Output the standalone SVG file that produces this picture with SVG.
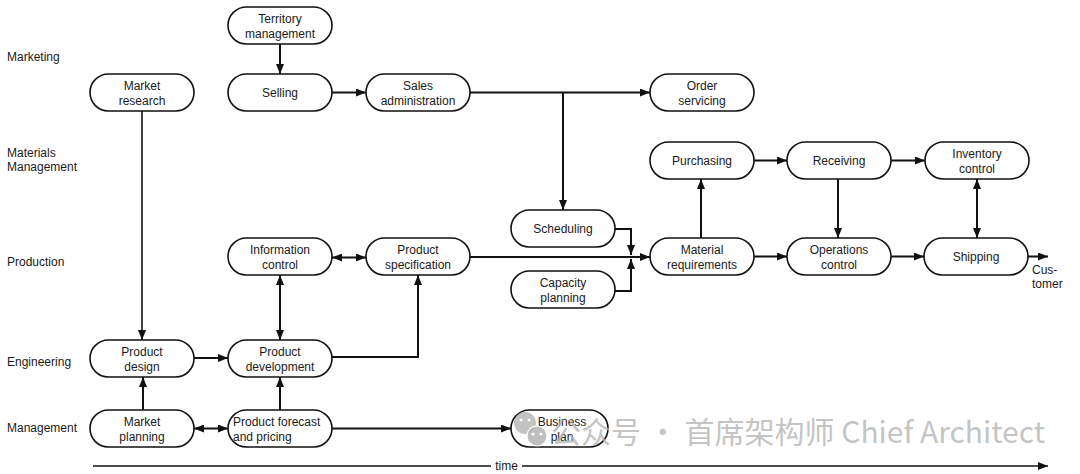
<svg xmlns="http://www.w3.org/2000/svg" width="1080" height="474" viewBox="0 0 1080 474">
<defs>
<style>
.n rect{fill:#fff;stroke:#111;stroke-width:1.6}
.n text,.lab,.t{font-family:"Liberation Sans",Arial,sans-serif;font-size:12px;fill:#1a1a1a}
.n text{text-anchor:middle}
.n text.l{text-anchor:start}
.c path{fill:none;stroke:#111;stroke-width:2}
.c .thin{stroke-width:1.6}
.wm{font-family:"Noto Sans CJK SC","Noto Sans",sans-serif;font-size:30px;fill:#b4b4b4;fill-opacity:0.8}
</style>
<marker id="ah" viewBox="0 0 10 8" refX="10" refY="4" markerWidth="10" markerHeight="8" markerUnits="userSpaceOnUse" orient="auto-start-reverse"><path d="M0,0 L10,4 L0,8 z" fill="#111"/></marker>
</defs>
<rect width="1080" height="474" fill="#fff"/>

<g id="lanes">
<text class="lab" x="7" y="61">Marketing</text>
<text class="lab" x="7" y="157">Materials</text>
<text class="lab" x="7" y="171">Management</text>
<text class="lab" x="7" y="266">Production</text>
<text class="lab" x="7" y="366">Engineering</text>
<text class="lab" x="7" y="432">Management</text>
</g>

<g class="c" id="connectors">
<path d="M280,44 V74" marker-end="url(#ah)"/>
<path d="M332,92.5 H366" marker-end="url(#ah)"/>
<path d="M470,92.5 H650" marker-end="url(#ah)"/>
<path d="M563,92.5 V210" marker-end="url(#ah)"/>
<path class="thin" d="M142,111 V340" marker-end="url(#ah)"/>
<path d="M615,229 H631 V255" marker-end="url(#ah)"/>
<path d="M615,291 H631 V259" marker-end="url(#ah)"/>
<path d="M470,257 H650" marker-end="url(#ah)"/>
<path d="M701,238 V179" marker-end="url(#ah)"/>
<path d="M754,160.5 H787" marker-end="url(#ah)"/>
<path d="M891,160.5 H925" marker-end="url(#ah)"/>
<path d="M838,179 V238" marker-end="url(#ah)"/>
<path d="M977,179 V238" marker-start="url(#ah)" marker-end="url(#ah)"/>
<path d="M754,256.5 H787" marker-end="url(#ah)"/>
<path d="M891,256.5 H924" marker-end="url(#ah)"/>
<path d="M1028,256.5 H1048" marker-end="url(#ah)"/>
<path d="M332,257.5 H366" marker-start="url(#ah)" marker-end="url(#ah)"/>
<path d="M280,275 V340" marker-start="url(#ah)" marker-end="url(#ah)"/>
<path d="M194,358 H228" marker-end="url(#ah)"/>
<path d="M332,357 H418 V275" marker-end="url(#ah)"/>
<path d="M143,410 V377" marker-end="url(#ah)"/>
<path d="M280,410 V377" marker-end="url(#ah)"/>
<path d="M194,428.5 H228" marker-start="url(#ah)" marker-end="url(#ah)"/>
<path d="M332,428.5 H511" marker-end="url(#ah)"/>
<path class="thin" d="M93,466 H491"/>
<path class="thin" d="M522,466 H1048" marker-end="url(#ah)"/>
</g>
<text class="t" x="506.5" y="470" text-anchor="middle">time</text>

<g class="n" id="territory"><rect x="228" y="7" width="104" height="37" rx="18.5"/><text x="280" y="22.5">Territory</text><text x="280" y="37.5">management</text></g>
<g class="n" id="market-research"><rect x="90" y="74" width="104" height="37" rx="18.5"/><text x="142" y="89.5">Market</text><text x="142" y="104.5">research</text></g>
<g class="n" id="selling"><rect x="228" y="74" width="104" height="37" rx="18.5"/><text x="280" y="97">Selling</text></g>
<g class="n" id="sales-admin"><rect x="366" y="74" width="104" height="37" rx="18.5"/><text x="418" y="89.5">Sales</text><text x="418" y="104.5">administration</text></g>
<g class="n" id="order-servicing"><rect x="650" y="74" width="104" height="37" rx="18.5"/><text x="702" y="89.5">Order</text><text x="702" y="104.5">servicing</text></g>
<g class="n" id="purchasing"><rect x="650" y="142" width="104" height="37" rx="18.5"/><text x="702" y="165">Purchasing</text></g>
<g class="n" id="receiving"><rect x="787" y="142" width="104" height="37" rx="18.5"/><text x="839" y="165">Receiving</text></g>
<g class="n" id="inventory"><rect x="925" y="142" width="104" height="37" rx="18.5"/><text x="977" y="157.5">Inventory</text><text x="977" y="172.5">control</text></g>
<g class="n" id="scheduling"><rect x="511" y="210" width="104" height="37" rx="18.5"/><text x="563" y="233">Scheduling</text></g>
<g class="n" id="capacity"><rect x="511" y="271" width="104" height="37" rx="18.5"/><text x="563" y="286.5">Capacity</text><text x="563" y="301.5">planning</text></g>
<g class="n" id="info-control"><rect x="228" y="238" width="104" height="37" rx="18.5"/><text x="280" y="253.5">Information</text><text x="280" y="268.5">control</text></g>
<g class="n" id="product-spec"><rect x="366" y="238" width="104" height="37" rx="18.5"/><text x="418" y="253.5">Product</text><text x="418" y="268.5">specification</text></g>
<g class="n" id="material-req"><rect x="650" y="238" width="104" height="37" rx="18.5"/><text x="702" y="253.5">Material</text><text x="702" y="268.5">requirements</text></g>
<g class="n" id="ops-control"><rect x="787" y="238" width="104" height="37" rx="18.5"/><text x="839" y="253.5">Operations</text><text x="839" y="268.5">control</text></g>
<g class="n" id="shipping"><rect x="924" y="238" width="104" height="37" rx="18.5"/><text x="976" y="261">Shipping</text></g>
<g class="n" id="product-design"><rect x="90" y="340" width="104" height="37" rx="18.5"/><text x="142" y="355.5">Product</text><text x="142" y="370.5">design</text></g>
<g class="n" id="product-dev"><rect x="228" y="340" width="104" height="37" rx="18.5"/><text x="280" y="355.5">Product</text><text x="280" y="370.5">development</text></g>
<g class="n" id="market-planning"><rect x="90" y="410" width="104" height="37" rx="18.5"/><text x="142" y="425.5">Market</text><text x="142" y="440.5">planning</text></g>
<g class="n" id="product-forecast"><rect x="228" y="410" width="104" height="37" rx="18.5"/><text class="l" x="233" y="425.5">Product forecast</text><text class="l" x="233" y="440.5">and pricing</text></g>
<g class="n" id="business-plan"><rect x="511" y="410" width="97" height="37" rx="18.5"/><text x="562" y="425.5">Business</text><text x="562" y="440.5">plan</text></g>

<g id="customer">
<text class="t" x="1032" y="274">Cus-</text>
<text class="t" x="1032" y="288">tomer</text>
</g>

<g id="watermark">
<circle cx="525" cy="423" r="11" fill="#b4b4b4" fill-opacity="0.8"/>
<circle cx="537" cy="436" r="10" fill="#b4b4b4" fill-opacity="0.85" stroke="#fff" stroke-width="1.2"/>
<circle cx="521" cy="420" r="1.5" fill="#fff"/><circle cx="529" cy="420" r="1.5" fill="#fff"/>
<circle cx="533" cy="434" r="1.5" fill="#fff"/><circle cx="541" cy="434" r="1.5" fill="#fff"/>
<text class="wm" x="1045" y="443" text-anchor="end">公众号 · 首席架构师 Chief Architect</text>
</g>
</svg>
